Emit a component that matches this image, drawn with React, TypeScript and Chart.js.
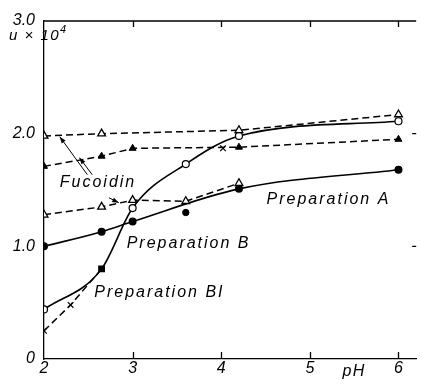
import React, { useEffect, useRef } from 'react';
import { Chart, registerables } from 'chart.js';

Chart.register(...registerables);

// Axis ticks
const xTickValues = [2, 3, 4, 5, 6];
const yTickValues = [0, 1, 2, 3];
const rightTickValues = [1, 2];

// Fucoidin, upper series (open triangles, dashed)
const fucTopPH = [2, 2.65, 4.2, 6];
const fucTopU = [1.98, 2.0, 2.03, 2.17];
// Fucoidin, middle series (filled triangles, dashed)
const fucMidPH = [2, 2.65, 3, 4.2, 6];
const fucMidU = [1.71, 1.8, 1.87, 1.88, 1.95];
// Fucoidin, lower series (open triangles, dashed)
const fucLowPH = [2, 2.65, 3, 3.6, 4.2];
const fucLowU = [1.28, 1.35, 1.41, 1.4, 1.56];
// Preparation A (filled circles, solid)
const prepAPH = [2, 2.65, 3, 4.2, 6];
const prepAU = [1.0, 1.13, 1.22, 1.51, 1.68];
const prepAOffPH = [3.6];
const prepAOffU = [1.3];
// Preparation B (open circles, solid)
const prepBPH = [2, 2.65, 3, 3.6, 4.2, 6];
const prepBU = [0.44, 0.8, 1.34, 1.73, 1.98, 2.11];
// Preparation BI (crosses, dashed)
const prepBIPH = [2, 2.3, 2.65];
const prepBIU = [0.25, 0.48, 0.8];
const prepBIStyles = ['crossRot', 'crossRot', 'rect'];
const prepBIExtraPH = [4.02];
const prepBIExtraU = [1.87];

// Text labels (data coordinates)
const labelTexts = ['Fucoidin', 'Preparation A', 'Preparation B', 'Preparation BI'];
const labelPH = [2.178, 4.511, 2.933, 2.567];
const labelU = [1.565, 1.413, 1.026, 0.587];

// Arrows (tail -> head, data coordinates)
const arrowTailPH = [2.489, 2.544, 2.733];
const arrowTailU = [1.636, 1.636, 1.431];
const arrowHeadPH = [2.178, 2.4, 2.844];
const arrowHeadU = [1.973, 1.787, 1.387];

const toPts = (xs: number[], ys: number[]) => xs.map((x, i) => ({ x, y: ys[i] }));

const FONT = '"Liberation Sans", Arial, sans-serif';

const annotPlugin = {
  id: 'annot',
  afterDraw(chart: any) {
    const { ctx, chartArea } = chart;
    const { left, right, top, bottom } = chartArea;
    const xs = chart.scales.x;
    const ys = chart.scales.y;
    ctx.save();
    ctx.strokeStyle = '#000';
    ctx.fillStyle = '#000';
    ctx.lineWidth = 1.3;
    ctx.setLineDash([]);
    // top frame line
    ctx.beginPath();
    ctx.moveTo(left, top);
    ctx.lineTo(right, top);
    // inner ticks on top and bottom
    xTickValues.slice(1).forEach((v) => {
      const px = Math.round(xs.getPixelForValue(v)) + 0.5;
      ctx.moveTo(px, top);
      ctx.lineTo(px, top + 6);
      ctx.moveTo(px, bottom);
      ctx.lineTo(px, bottom - 7);
    });
    // right edge small ticks
    rightTickValues.forEach((v) => {
      const py = ys.getPixelForValue(v);
      ctx.moveTo(right - 4, py);
      ctx.lineTo(right, py);
    });
    ctx.stroke();

    // arrows
    ctx.lineWidth = 1;
    arrowTailPH.forEach((_, i) => {
      const x0 = xs.getPixelForValue(arrowTailPH[i]);
      const y0 = ys.getPixelForValue(arrowTailU[i]);
      const x1 = xs.getPixelForValue(arrowHeadPH[i]);
      const y1 = ys.getPixelForValue(arrowHeadU[i]);
      const ang = Math.atan2(y1 - y0, x1 - x0);
      ctx.beginPath();
      ctx.moveTo(x0, y0);
      ctx.lineTo(x1, y1);
      ctx.stroke();
      const L = 7;
      const W = 0.35;
      ctx.beginPath();
      ctx.moveTo(x1, y1);
      ctx.lineTo(x1 - L * Math.cos(ang - W), y1 - L * Math.sin(ang - W));
      ctx.lineTo(x1 - L * Math.cos(ang + W), y1 - L * Math.sin(ang + W));
      ctx.closePath();
      ctx.fill();
    });

    // text labels
    ctx.font = `italic 16px ${FONT}`;
    (ctx as any).letterSpacing = '2px';
    ctx.textAlign = 'left';
    ctx.textBaseline = 'middle';
    labelTexts.forEach((t, i) => {
      ctx.fillText(t, xs.getPixelForValue(labelPH[i]), ys.getPixelForValue(labelU[i]));
    });

    // y axis title: u x 10^4
    ctx.font = `italic 15px ${FONT}`;
    (ctx as any).letterSpacing = '1.5px';
    ctx.textBaseline = 'alphabetic';
    const tx = left - 35;
    const ty = top + 19;
    const main = 'u × 10';
    ctx.fillText(main, tx, ty);
    const w = ctx.measureText(main).width;
    ctx.font = `italic 11px ${FONT}`;
    (ctx as any).letterSpacing = '0px';
    ctx.fillText('4', tx + w, ty - 7);

    // x axis title: pH
    ctx.font = `italic 16px ${FONT}`;
    (ctx as any).letterSpacing = '1.5px';
    ctx.textAlign = 'center';
    ctx.textBaseline = 'middle';
    ctx.fillText('pH', xs.getPixelForValue(5.5), bottom + 13);
    ctx.restore();
  },
};

export default function App() {
  const ref = useRef<HTMLCanvasElement | null>(null);
  useEffect(() => {
    document.body.style.margin = '0';
    const canvas = ref.current;
    if (!canvas) return;
    const black = '#000';
    const dash = [7, 4];
    const chart = new Chart(canvas, {
      type: 'line',
      data: {
        datasets: [
          {
            label: 'Fucoidin top',
            data: toPts(fucTopPH, fucTopU),
            borderColor: black,
            borderWidth: 1.5,
            borderDash: dash,
            pointStyle: 'triangle',
            pointRadius: 4.5,
            pointBackgroundColor: '#fff',
            pointBorderColor: black,
            pointBorderWidth: 1.3,
            tension: 0,
          },
          {
            label: 'Fucoidin mid',
            data: toPts(fucMidPH, fucMidU),
            borderColor: black,
            borderWidth: 1.5,
            borderDash: dash,
            pointStyle: 'triangle',
            pointRadius: 4,
            pointBackgroundColor: black,
            pointBorderColor: black,
            pointBorderWidth: 1,
            tension: 0,
          },
          {
            label: 'Fucoidin low',
            data: toPts(fucLowPH, fucLowU),
            borderColor: black,
            borderWidth: 1.5,
            borderDash: dash,
            pointStyle: 'triangle',
            pointRadius: 4.5,
            pointBackgroundColor: '#fff',
            pointBorderColor: black,
            pointBorderWidth: 1.3,
            tension: 0,
          },
          {
            label: 'Preparation A',
            data: toPts(prepAPH, prepAU),
            borderColor: black,
            borderWidth: 1.6,
            pointStyle: 'circle',
            pointRadius: 3.2,
            pointBackgroundColor: black,
            pointBorderColor: black,
            cubicInterpolationMode: 'monotone',
          },
          {
            label: 'Preparation A (off)',
            data: toPts(prepAOffPH, prepAOffU),
            showLine: false,
            pointStyle: 'circle',
            pointRadius: 3.2,
            pointBackgroundColor: black,
            pointBorderColor: black,
          },
          {
            label: 'Preparation BI',
            data: toPts(prepBIPH, prepBIU),
            borderColor: black,
            borderWidth: 1.5,
            borderDash: dash,
            pointStyle: prepBIStyles as any,
            pointRadius: [4, 4, 4],
            pointBackgroundColor: black,
            pointBorderColor: black,
            pointBorderWidth: 1.2,
            tension: 0,
          },
          {
            label: 'Preparation BI (extra)',
            data: toPts(prepBIExtraPH, prepBIExtraU),
            showLine: false,
            pointStyle: 'crossRot',
            pointRadius: 4,
            pointBorderColor: black,
            pointBorderWidth: 1.2,
          },
          {
            label: 'Preparation B',
            data: toPts(prepBPH, prepBU),
            borderColor: black,
            borderWidth: 1.6,
            pointStyle: 'circle',
            pointRadius: [3.5, 0, 3.5, 3.5, 3.5, 3.5],
            pointBackgroundColor: '#fff',
            pointBorderColor: black,
            pointBorderWidth: 1.2,
            cubicInterpolationMode: 'monotone',
          },
        ],
      },
      options: {
        animation: false,
        responsive: true,
        maintainAspectRatio: false,
        layout: { padding: { top: 21, left: 0, right: 0, bottom: 0 } },
        plugins: { legend: { display: false }, tooltip: { enabled: false } },
        scales: {
          x: {
            type: 'linear',
            min: 2,
            max: 6.2,
            afterBuildTicks: (s: any) => {
              s.ticks = xTickValues.map((v) => ({ value: v }));
            },
            afterFit: (s: any) => {
              s.height = 26;
            },
            grid: { display: false, drawTicks: false },
            border: { display: true, color: black, width: 1.3 },
            ticks: {
              padding: 0,
              color: black,
              font: { family: FONT, size: 16, style: 'italic' },
              callback: (v: any) => String(v),
            },
          },
          y: {
            type: 'linear',
            min: 0,
            max: 3,
            afterBuildTicks: (s: any) => {
              s.ticks = yTickValues.map((v) => ({ value: v }));
            },
            afterFit: (s: any) => {
              s.width = 44;
            },
            grid: { display: false, drawTicks: false },
            border: { display: true, color: black, width: 1.3 },
            ticks: {
              padding: 9,
              color: black,
              font: { family: FONT, size: 16, style: 'italic' },
              callback: (v: any) => (v === 0 ? '0' : Number(v).toFixed(1)),
            },
          },
        },
      } as any,
      plugins: [annotPlugin],
    });
    return () => chart.destroy();
  }, []);
  return (
    <div style={{ position: 'absolute', left: 0, top: 0, width: 422, height: 385, background: '#fff' }}>
      <canvas ref={ref} />
    </div>
  );
}
